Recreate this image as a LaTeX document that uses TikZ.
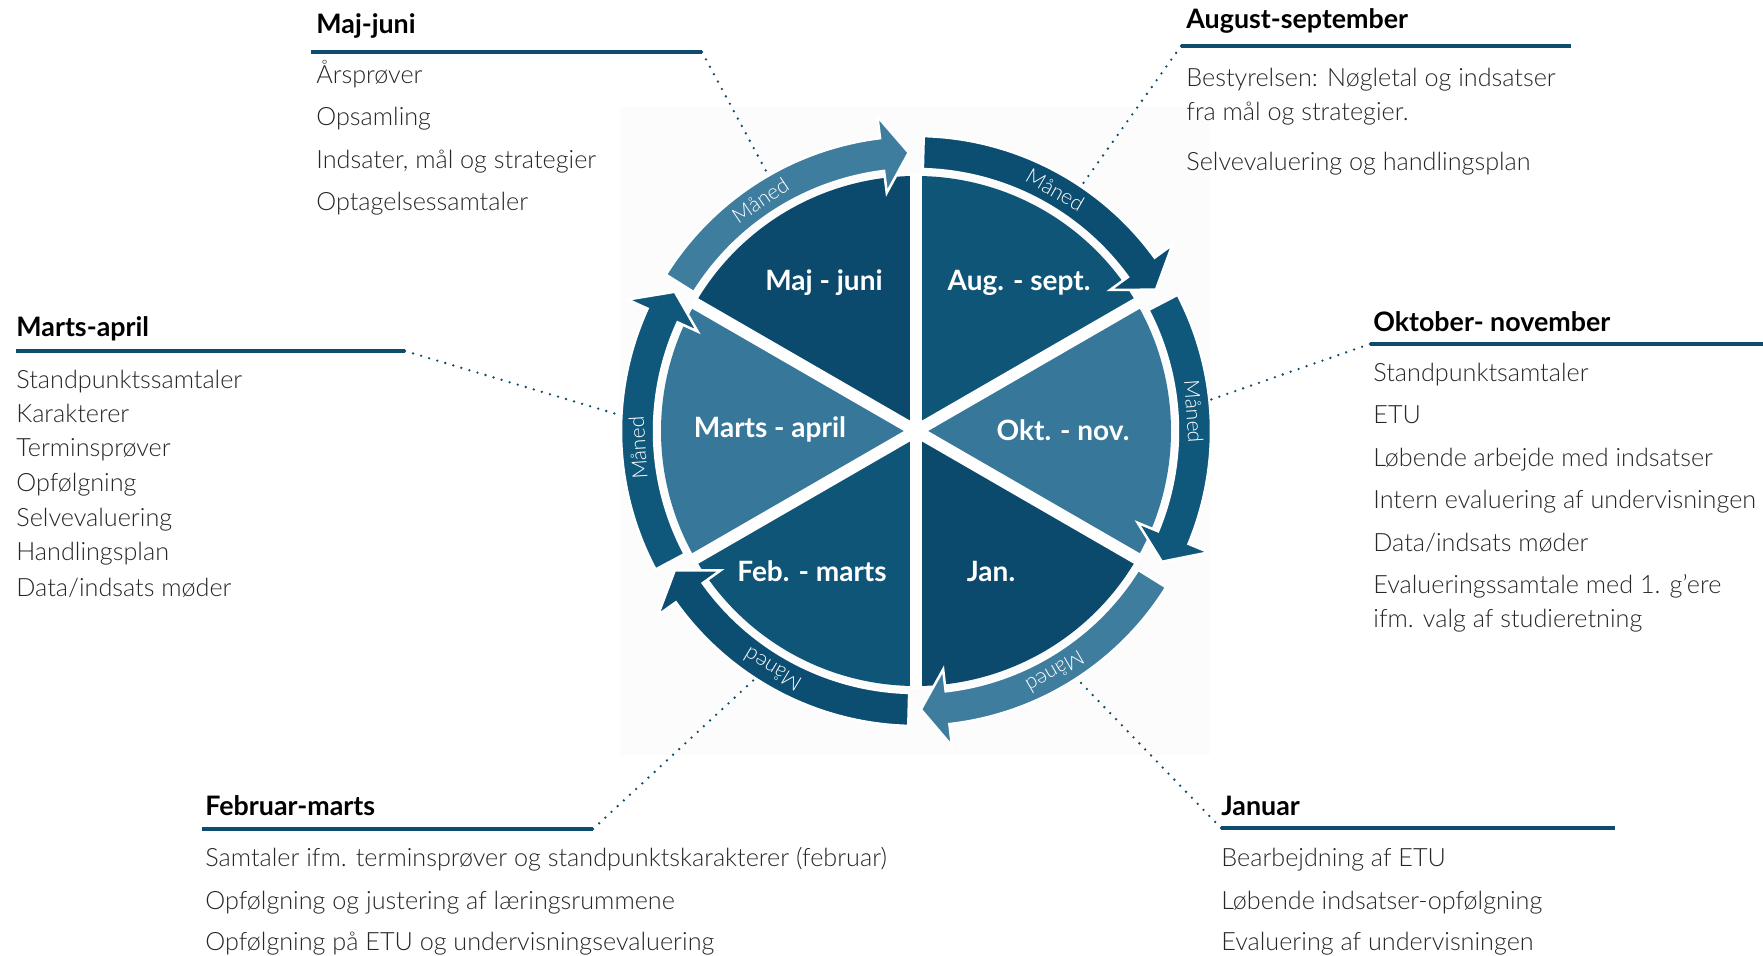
\documentclass[tikz,border=0pt]{standalone}
\usepackage{fontspec}
\setmainfont{Lato}[Extension=.ttf, UprightFont=*-Light, BoldFont=*-Bold]
\usetikzlibrary{arrows.meta, positioning}

\definecolor{navy}{HTML}{0B4A6C}
\definecolor{deepblue}{HTML}{0F5578}
\definecolor{steel}{HTML}{37789A}
\definecolor{ringlight}{HTML}{3E7D9E}
\definecolor{ringdark}{HTML}{0C4E71}
\definecolor{ringmid}{HTML}{0F587C}
\definecolor{barblue}{HTML}{0D4C6D}
\definecolor{bodytext}{HTML}{262626}

\begin{document}
\begin{tikzpicture}[x=0.5pt, y=0.5pt,
		head/.style={font=\bfseries\fontsize{13.4}{16}\selectfont, anchor=base west, inner sep=0pt},
		item/.style={font=\fontsize{12.6}{17}\selectfont, text=bodytext, anchor=base west, inner sep=0pt, align=left},
		month/.style={font=\bfseries\fontsize{14}{16}\selectfont, text=white, anchor=base, inner sep=0pt},
		maaned/.style={font=\fontsize{10.5}{12}\selectfont, text=white, inner sep=0pt},
		bar/.style={draw=barblue, line width=2.25pt},
		leader/.style={draw=barblue, line width=1.3pt, line cap=round, dash pattern=on 0pt off 4.2pt},
		ringarrow/.style={draw=white, line width=1.25pt}]
			\useasboundingbox (0,0) rectangle (1763,955);

			% Draw the pale backdrop behind the wheel
			\fill[black!1] (620,200) rectangle (1210,848);

			\begin{scope}[shift={(916,524)}]
				% Draw the six sectors
				\fill[navy] (0,0) -- (90:255) arc[start angle=90, end angle=150, radius=255] -- cycle;
				\fill[deepblue] (0,0) -- (30:255) arc[start angle=30, end angle=90, radius=255] -- cycle;
				\fill[steel] (0,0) -- (-30:255) arc[start angle=-30, end angle=30, radius=255] -- cycle;
				\fill[navy] (0,0) -- (-90:255) arc[start angle=-90, end angle=-30, radius=255] -- cycle;
				\fill[deepblue] (0,0) -- (210:255) arc[start angle=210, end angle=270, radius=255] -- cycle;
				\fill[steel] (0,0) -- (150:255) arc[start angle=150, end angle=210, radius=255] -- cycle;

				% Draw the white spokes between the sectors
				\foreach \a in {90,30,-30,-90,-150,150}
					\draw[white, line width=6pt] (0,0) -- (\a:258);

				% Draw the ring arrows (clockwise)
				\filldraw[ringarrow, fill=ringlight] (148:262) arc[start angle=148, end angle=97, radius=262]
					-- (97:240) -- (91.5:278.5) -- (97:317) -- (97:295) arc[start angle=97, end angle=148, radius=295] -- cycle;
				\filldraw[ringarrow, fill=ringdark] (88.5:262) arc[start angle=88.5, end angle=36, radius=262]
					-- (36:240) -- (30.5:278.5) -- (36:317) -- (36:295) arc[start angle=36, end angle=88.5, radius=295] -- cycle;
				\filldraw[ringarrow, fill=ringmid] (27.5:262) arc[start angle=27.5, end angle=-22.5, radius=262]
					-- (-22.5:240) -- (-28:278.5) -- (-22.5:317) -- (-22.5:295) arc[start angle=-22.5, end angle=27.5, radius=295] -- cycle;
				\filldraw[ringarrow, fill=ringlight] (-32:262) arc[start angle=-32, end angle=-83.5, radius=262]
					-- (-83.5:240) -- (-89:278.5) -- (-83.5:317) -- (-83.5:295) arc[start angle=-83.5, end angle=-32, radius=295] -- cycle;
				\filldraw[ringarrow, fill=ringdark] (-91.5:262) arc[start angle=-91.5, end angle=-144.5, radius=262]
					-- (-144.5:240) -- (-150:278.5) -- (-144.5:317) -- (-144.5:295) arc[start angle=-144.5, end angle=-91.5, radius=295] -- cycle;
				\filldraw[ringarrow, fill=ringmid] (208:262) arc[start angle=208, end angle=155.5, radius=262]
					-- (155.5:240) -- (150:278.5) -- (155.5:317) -- (155.5:295) arc[start angle=155.5, end angle=208, radius=295] -- cycle;

				% Ring labels
				\node[maaned, rotate=34] (mtl) at (124:278.5) {Måned};
				\node[maaned, rotate=-30] (mtr) at (60:278.5) {Måned};
				\node[maaned, rotate=-86] (mr) at (4:278.5) {Måned};
				\node[maaned, rotate=-150] (mbr) at (-60:278.5) {Måned};
				\node[maaned, rotate=149] (mbl) at (239:278.5) {Måned};
				\node[maaned, rotate=93.5] (ml) at (183.5:278.5) {Måned};

				% Points on the ring where the leaders end
				\coordinate (majring) at (120:295);
				\coordinate (augring) at (56:295);
				\coordinate (okting) at (6:295);
				\coordinate (janring) at (-57:295);
				\coordinate (febring) at (237:295);
				\coordinate (martsring) at (177:295);
			\end{scope}

			% Sector labels
			\node[month] (majlbl) at (824,664) {Maj - juni};
			\node[month] (auglbl) at (1019,664) {Aug. - sept.};
			\node[month] (martslbl) at (770,517) {Marts - april};
			\node[month] (oktlbl) at (1063,515) {Okt. - nov.};
			\node[month] (feblbl) at (812,374) {Feb. - marts};
			\node[month] (janlbl) at (991,374) {Jan.};

			% Maj-juni block
			\node[head] (majhead) at (316,921) {Maj-juni};
			\coordinate (majbar) at (311,903);
			\coordinate (majend) at (702,903);
			\draw[bar] (majbar) -- (majend);
			\node[item] (maj1) at (316,871) {Årsprøver};
			\node[item] (maj2) at (316,829) {Opsamling};
			\node[item] (maj3) at (316,786) {Indsater, mål og strategier};
			\node[item] (maj4) at (316,744) {Optagelsessamtaler};
			\draw[leader] (majend) -- (majring);

			% August-september block
			\node[head] (aughead) at (1186,926) {August-september};
			\coordinate (augbar) at (1181,909);
			\coordinate (augend) at (1571,909);
			\draw[bar] (augbar) -- (augend);
			\node[item, anchor=west] (aug1) at (1186,858) {Bestyrelsen: Nøgletal og indsatser\\fra mål og strategier.};
			\node[item] (aug2) at (1186,784) {Selvevaluering og handlingsplan};
			\draw[leader] (augbar) -- (augring);

			% Marts-april block
			\node[head] (martshead) at (16,618) {Marts-april};
			\coordinate (martsbar) at (16,604);
			\coordinate (martsend) at (405,604);
			\draw[bar] (martsbar) -- (martsend);
			\node[item] (marts1) at (16,567) {Standpunktssamtaler};
			\node[item] (marts2) at (16,532) {Karakterer};
			\node[item] (marts3) at (16,498) {Terminsprøver};
			\node[item] (marts4) at (16,464) {Opfølgning};
			\node[item] (marts5) at (16,429) {Selvevaluering};
			\node[item] (marts6) at (16,394) {Handlingsplan};
			\node[item] (marts7) at (16,359) {Data/indsats møder};
			\draw[leader] (martsend) -- (martsring);

			% Oktober-november block
			\node[head] (okthead) at (1373,623) {Oktober- november};
			\coordinate (oktbar) at (1370,611);
			\coordinate (oktend) at (1763,611);
			\draw[bar] (oktbar) -- (oktend);
			\node[item] (okt1) at (1373,573) {Standpunktsamtaler};
			\node[item] (okt2) at (1373,531) {ETU};
			\node[item] (okt3) at (1373,488) {Løbende arbejde med indsatser};
			\node[item] (okt4) at (1373,446) {Intern evaluering af undervisningen};
			\node[item] (okt5) at (1373,404) {Data/indsats møder};
			\node[item, anchor=west] (okt6) at (1373,352) {Evalueringssamtale med 1. g’ere\\ifm. valg af studieretning};
			\draw[leader] (oktbar) -- (okting);

			% Februar-marts block
			\node[head] (febhead) at (205,140) {Februar-marts};
			\coordinate (febbar) at (202,126);
			\coordinate (febend) at (593,126);
			\draw[bar] (febbar) -- (febend);
			\node[item] (feb1) at (205,89) {Samtaler ifm. terminsprøver og standpunktskarakterer (februar)};
			\node[item] (feb2) at (205,46) {Opfølgning og justering af læringsrummene};
			\node[item] (feb3) at (205,5) {Opfølgning på ETU og undervisningsevaluering};
			\draw[leader] (febend) -- (febring);

			% Januar block
			\node[head] (janhead) at (1221,140) {Januar};
			\coordinate (janbar) at (1221,127);
			\coordinate (janend) at (1615,127);
			\draw[bar] (janbar) -- (janend);
			\node[item] (jan1) at (1221,89) {Bearbejdning af ETU};
			\node[item] (jan2) at (1221,46) {Løbende indsatser-opfølgning};
			\node[item] (jan3) at (1221,5) {Evaluering af undervisningen};
			\draw[leader] (janbar) -- (janring);

\end{tikzpicture}
\end{document}
